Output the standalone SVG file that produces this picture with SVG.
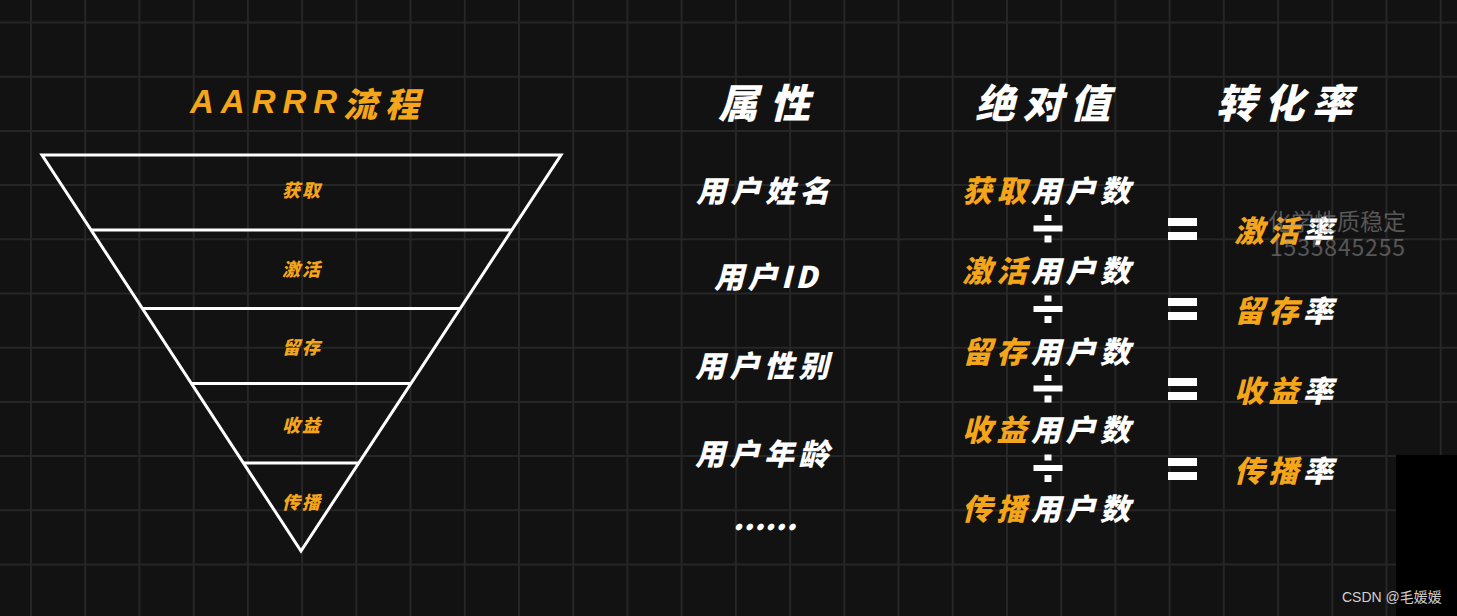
<svg xmlns="http://www.w3.org/2000/svg" width="1457" height="616" viewBox="0 0 1457 616">
<style>
.bg{fill:#121212}
.grid line{stroke:#262626;stroke-width:2}
.fun{fill:none;stroke:#ffffff;stroke-width:3;stroke-linejoin:miter}
.cjk{font-family:"Noto Sans CJK SC","Noto Sans",sans-serif;font-weight:900;font-style:italic}
.o{fill:#F4A51A}
.w{fill:#ffffff}
.lbl{font-size:18px;letter-spacing:2px}
.hd{font-size:40px}
.it{font-size:30px;letter-spacing:4.5px}
.mark{font-family:"Noto Sans CJK SC","Noto Sans",sans-serif;fill:#9a9a9a;opacity:0.5;font-size:23px}
</style>
<rect class="bg" x="0" y="0" width="1457" height="616"/>
<g class="grid" id="grid">
<line x1="31" y1="0" x2="31" y2="616"/><line x1="85.2" y1="0" x2="85.2" y2="616"/><line x1="139.4" y1="0" x2="139.4" y2="616"/><line x1="193.7" y1="0" x2="193.7" y2="616"/><line x1="247.9" y1="0" x2="247.9" y2="616"/><line x1="302.1" y1="0" x2="302.1" y2="616"/><line x1="356.3" y1="0" x2="356.3" y2="616"/><line x1="410.5" y1="0" x2="410.5" y2="616"/><line x1="464.8" y1="0" x2="464.8" y2="616"/><line x1="519" y1="0" x2="519" y2="616"/><line x1="573.2" y1="0" x2="573.2" y2="616"/><line x1="627.4" y1="0" x2="627.4" y2="616"/><line x1="681.6" y1="0" x2="681.6" y2="616"/><line x1="735.9" y1="0" x2="735.9" y2="616"/><line x1="790.1" y1="0" x2="790.1" y2="616"/><line x1="844.3" y1="0" x2="844.3" y2="616"/><line x1="898.5" y1="0" x2="898.5" y2="616"/><line x1="952.7" y1="0" x2="952.7" y2="616"/><line x1="1007" y1="0" x2="1007" y2="616"/><line x1="1061.2" y1="0" x2="1061.2" y2="616"/><line x1="1115.4" y1="0" x2="1115.4" y2="616"/><line x1="1169.6" y1="0" x2="1169.6" y2="616"/><line x1="1223.8" y1="0" x2="1223.8" y2="616"/><line x1="1278.1" y1="0" x2="1278.1" y2="616"/><line x1="1332.3" y1="0" x2="1332.3" y2="616"/><line x1="1386.5" y1="0" x2="1386.5" y2="616"/><line x1="1440.7" y1="0" x2="1440.7" y2="616"/>
<line x1="0" y1="22.5" x2="1457" y2="22.5"/><line x1="0" y1="76.7" x2="1457" y2="76.7"/><line x1="0" y1="130.9" x2="1457" y2="130.9"/><line x1="0" y1="185.1" x2="1457" y2="185.1"/><line x1="0" y1="239.3" x2="1457" y2="239.3"/><line x1="0" y1="293.5" x2="1457" y2="293.5"/><line x1="0" y1="347.7" x2="1457" y2="347.7"/><line x1="0" y1="401.9" x2="1457" y2="401.9"/><line x1="0" y1="456.1" x2="1457" y2="456.1"/><line x1="0" y1="510.3" x2="1457" y2="510.3"/><line x1="0" y1="564.5" x2="1457" y2="564.5"/>
</g>
<rect x="1396" y="455" width="61" height="161" fill="#000000"/>

<g id="title">
<text class="o" x="190" y="113" font-family="'Liberation Sans',sans-serif" font-weight="700" font-style="italic" font-size="33" letter-spacing="7">AARRR</text>
<text class="cjk o" x="343" y="102" font-size="34" dominant-baseline="central" letter-spacing="8">流程</text>
</g>

<g id="funnel">
<polygon class="fun" points="42,155 561,155 301,551"/>
<line class="fun" x1="91.1" y1="230" x2="511.8" y2="230"/>
<line class="fun" x1="142.4" y1="308.5" x2="460" y2="308.5"/>
<line class="fun" x1="191.5" y1="383.5" x2="410.8" y2="383.5"/>
<line class="fun" x1="243.8" y1="463" x2="358" y2="463"/>
</g>
<g id="stage-acquire"><text class="cjk o lbl" x="302" y="189" text-anchor="middle" dominant-baseline="central">获取</text></g>
<g id="stage-activate"><text class="cjk o lbl" x="302" y="268" text-anchor="middle" dominant-baseline="central">激活</text></g>
<g id="stage-retain"><text class="cjk o lbl" x="302" y="346" text-anchor="middle" dominant-baseline="central">留存</text></g>
<g id="stage-revenue"><text class="cjk o lbl" x="302" y="424" text-anchor="middle" dominant-baseline="central">收益</text></g>
<g id="stage-refer"><text class="cjk o lbl" x="302" y="501" text-anchor="middle" dominant-baseline="central">传播</text></g>

<g id="headers">
<text class="cjk w hd" x="718" y="101" dominant-baseline="central" textLength="92" lengthAdjust="spacing">属性</text>
<text class="cjk w hd" x="975" y="101" dominant-baseline="central" textLength="135" lengthAdjust="spacing">绝对值</text>
<text class="cjk w hd" x="1216" y="101" dominant-baseline="central" textLength="136" lengthAdjust="spacing">转化率</text>
</g>

<g id="attributes">
<text class="cjk w it" x="696" y="189" dominant-baseline="central">用户姓名</text>
<text class="cjk w" x="714" y="275" font-size="30" dominant-baseline="central" textLength="103" lengthAdjust="spacing">用户ID</text>
<text class="cjk w it" x="695" y="364" dominant-baseline="central">用户性别</text>
<text class="cjk w it" x="695" y="452" dominant-baseline="central">用户年龄</text>
<text class="cjk w" x="733" y="530" font-size="30" textLength="64" lengthAdjust="spacing">......</text>
</g>

<g id="absolute">
<text class="cjk it" x="962" y="189" dominant-baseline="central"><tspan class="o">获取</tspan><tspan class="w">用户数</tspan></text>
<text class="cjk it" x="962" y="269" dominant-baseline="central"><tspan class="o">激活</tspan><tspan class="w">用户数</tspan></text>
<text class="cjk it" x="962" y="350" dominant-baseline="central"><tspan class="o">留存</tspan><tspan class="w">用户数</tspan></text>
<text class="cjk it" x="962" y="428" dominant-baseline="central"><tspan class="o">收益</tspan><tspan class="w">用户数</tspan></text>
<text class="cjk it" x="962" y="507" dominant-baseline="central"><tspan class="o">传播</tspan><tspan class="w">用户数</tspan></text>
</g>

<defs>
<g id="div"><rect x="-3.5" y="-13.5" width="7" height="6" fill="#fff"/><rect x="-14.5" y="-3" width="29" height="6" fill="#fff"/><rect x="-3.5" y="7" width="7" height="7" fill="#fff"/></g>
<g id="eq"><rect x="-14.5" y="-11" width="29" height="8" fill="#fff"/><rect x="-14.5" y="3" width="29" height="8" fill="#fff"/></g>
</defs>
<g id="operators">
<use href="#div" x="1048" y="228.5"/>
<use href="#div" x="1048" y="309"/>
<use href="#div" x="1048" y="388.5"/>
<use href="#div" x="1048" y="468"/>
<use href="#eq" x="1182.5" y="229"/>
<use href="#eq" x="1182.5" y="309"/>
<use href="#eq" x="1182.5" y="389"/>
<use href="#eq" x="1182.5" y="469"/>
</g>

<g id="rates">
<text class="cjk it" x="1234" y="229" dominant-baseline="central"><tspan class="o">激活</tspan><tspan class="w">率</tspan></text>
<text class="cjk it" x="1234" y="309" dominant-baseline="central"><tspan class="o">留存</tspan><tspan class="w">率</tspan></text>
<text class="cjk it" x="1234" y="389" dominant-baseline="central"><tspan class="o">收益</tspan><tspan class="w">率</tspan></text>
<text class="cjk it" x="1234" y="469" dominant-baseline="central"><tspan class="o">传播</tspan><tspan class="w">率</tspan></text>
</g>

<g id="watermark">
<text class="mark" x="1268" y="220" dominant-baseline="central" textLength="138" lengthAdjust="spacing">化学性质稳定</text>
<text class="mark" x="1270" y="256" font-family="'Liberation Sans',sans-serif" font-size="24" textLength="135" lengthAdjust="spacing">1535845255</text>
</g>
<g id="credit">
<text x="1342" y="602" font-family="'Liberation Sans','Noto Sans CJK SC',sans-serif" font-size="14" fill="#d0d0d0">CSDN @毛媛媛</text>
</g>
</svg>
